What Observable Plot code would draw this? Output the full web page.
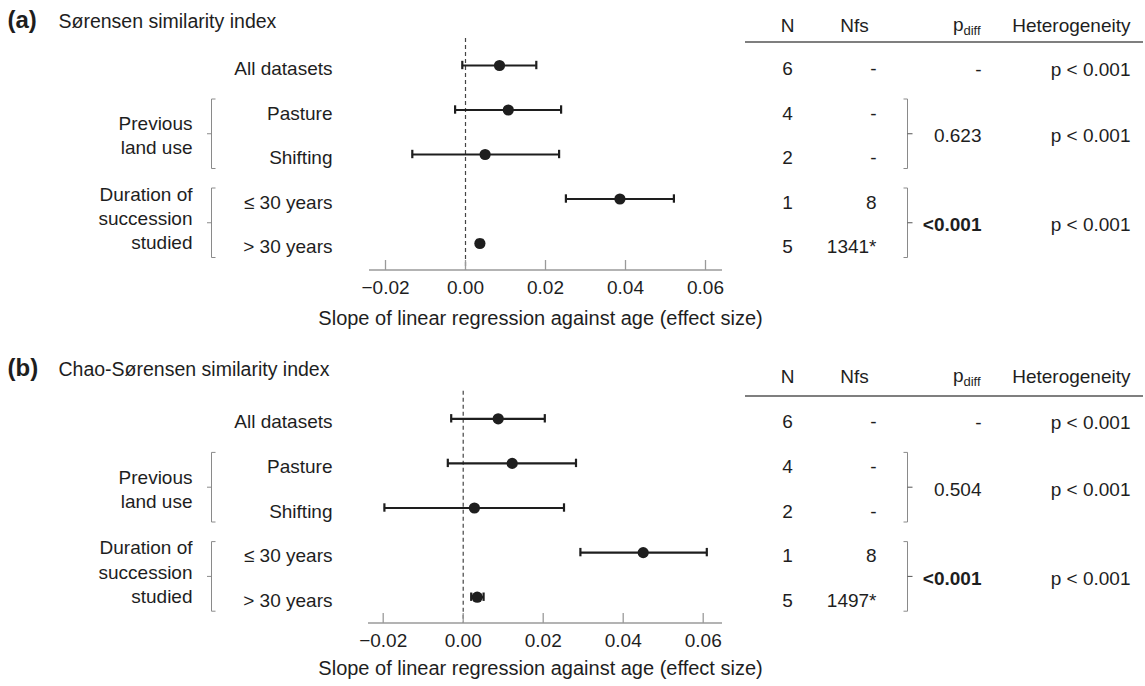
<!DOCTYPE html>
<html>
<head>
<meta charset="utf-8">
<script src="https://cdn.jsdelivr.net/npm/d3@7"></script>
<script src="https://cdn.jsdelivr.net/npm/@observablehq/plot@0.6"></script>
<style>
  body { margin: 0; background: #fff; }
  #chart { width: 1145px; height: 686px; overflow: hidden; }
  #chart svg { display: block; }
</style>
</head>
<body>
<div id="chart"></div>
<script>
// ---------- data ----------
const rowLabels = ["All datasets", "Pasture", "Shifting", "≤ 30 years", "> 30 years"];
const nValues = [6, 4, 2, 1, 5];
const groupLabels = ["", "Previous\nland use", "Duration of\nsuccession\nstudied"];
const groupFirstRow = [0, 1, 3];
const groupLastRow = [0, 2, 4];
const pdiffBold = [false, false, true];
const xTicks = [-0.02, 0, 0.02, 0.04, 0.06];
const axisLabel = "Slope of linear regression against age (effect size)";

const sorTitle = "Sørensen similarity index";
const sorEstimate = [0.0085, 0.0107, 0.0049, 0.0386, 0.0036];
const sorLower = [-0.0008, -0.0026, -0.0133, 0.0251, 0.0030];
const sorUpper = [0.0177, 0.0239, 0.0234, 0.0521, 0.0042];
const sorNfs = ["-", "-", "-", "8", "1341*"];
const sorPdiff = ["-", "0.623", "<0.001"];
const sorHeterogeneity = ["p < 0.001", "p < 0.001", "p < 0.001"];

const chaoTitle = "Chao-Sørensen similarity index";
const chaoEstimate = [0.00875, 0.01225, 0.0028, 0.0450, 0.0035];
const chaoLower = [-0.0030, -0.00385, -0.0197, 0.0293, 0.0020];
const chaoUpper = [0.0204, 0.0282, 0.0252, 0.0609, 0.0051];
const chaoNfs = ["-", "-", "-", "8", "1497*"];
const chaoPdiff = ["-", "0.504", "<0.001"];
const chaoHeterogeneity = ["p < 0.001", "p < 0.001", "p < 0.001"];

// ---------- layout ----------
const W = 1145;
const FONT = "'Liberation Sans', Arial, Helvetica, sans-serif";
const INK = "#1e1e1e";
const cols = {
  tagX: 7, titleX: 58, groupLabelX: 192, bracketLX: 211.5, rowLabelX: 332,
  nX: 787, nfsRight: 876, nfsHeader: 854, bracketRX: 907.5,
  pdiffRight: 981, hetRight: 1130, headLineX1: 745, headLineX2: 1143, axisLabelX: 540
};
const groupLineStep = 0.54;          // line spacing of group labels, in row units
const groupShift = [0, 0.04, -0.1];  // small vertical nudges of group labels, in row units
const layoutA = { tag: "(a)", height: 343, rowTop: 65, rowBottom: 243, dashTop: 38, axisY: 270,
  titleY: 20, headerY: 25, headerLineY: 42, axisLeft: 369, axisRight: 722,
  xDomain: [-0.024, 0.06425], axisLabelDy: 48 };
const layoutB = { tag: "(b)", height: 343, rowTop: 75.3, rowBottom: 253.7, dashTop: 47.7, axisY: 280,
  titleY: 25, headerY: 33, headerLineY: 53, axisLeft: 368, axisRight: 722,
  xDomain: [-0.023675, 0.064825], axisLabelDy: 45 };

function panel(L, title, est, lo, hi, nfs, pdiff, het) {
  const rows = rowLabels.map((label, i) => ({ i, label, n: nValues[i], est: est[i], lo: lo[i], hi: hi[i], nfs: nfs[i] }));
  const groups = groupLabels.map((label, g) => ({
    g, label, first: groupFirstRow[g], last: groupLastRow[g],
    mid: (groupFirstRow[g] + groupLastRow[g]) / 2, pdiff: pdiff[g], bold: pdiffBold[g], het: het[g]
  }));
  const groupLines = groups.flatMap(gr => {
    if (!gr.label) return [];
    const lines = gr.label.split("\n");
    return lines.map((text, k) => ({ text, y: gr.mid + groupShift[gr.g] + (k - (lines.length - 1) / 2) * groupLineStep }));
  });
  const ml = L.axisLeft, mt = L.dashTop;
  const at = (px) => px - ml;
  const fixed = (text, px, py, o = {}) => Plot.text([text], {
    text: d => d, frameAnchor: "top-left", dx: px - ml, dy: py - mt, lineAnchor: "middle", fill: INK, ...o
  });
  const capH = 4.2 / ((L.rowBottom - L.rowTop) / 4);

  const deco = (index, scales, values, dims) => {
    const y = scales.y;
    const g = d3.create("svg:g").attr("fill", "none");
    const line = (x1, y1, x2, y2, stroke, w = 1) =>
      g.append("line").attr("x1", x1).attr("y1", y1).attr("x2", x2).attr("y2", y2)
        .attr("stroke", stroke).attr("stroke-width", w);
    line(L.axisLeft, L.axisY, L.axisRight, L.axisY, "#9a9a9a", 1.3);
    line(cols.headLineX1, L.headerLineY, cols.headLineX2, L.headerLineY, "#555", 1.3);
    for (const gr of groups) {
      if (gr.first === gr.last) continue;
      const yt = y(gr.first) - 10.5, yb = y(gr.last) + 14.5, ym = (yt + yb) / 2;
      const xl = cols.bracketLX, xr = cols.bracketRX;
      line(xl, yt, xl, yb, "#8a8a8a");
      line(xl, yt, xl + 4, yt, "#8a8a8a");
      line(xl, yb, xl + 4, yb, "#8a8a8a");
      line(xl - 4.5, ym, xl, ym, "#8a8a8a");
      line(xr, yt, xr, yb, "#8a8a8a");
      line(xr - 4, yt, xr, yt, "#8a8a8a");
      line(xr - 4, yb, xr, yb, "#8a8a8a");
      line(xr, ym, xr + 5, ym, "#555");
    }
    return g.node();
  };

  return Plot.plot({
    width: W,
    height: L.height,
    marginLeft: L.axisLeft,
    marginRight: W - L.axisRight,
    marginTop: L.dashTop,
    marginBottom: L.height - L.axisY,
    style: { fontFamily: FONT, fontSize: "19px", color: INK, background: "white", overflow: "visible" },
    x: { domain: L.xDomain },
    y: { domain: [0, 4], range: [L.rowTop, L.rowBottom], axis: null },
    marks: [
      Plot.ruleX([0], { stroke: "#444", strokeWidth: 1.2, strokeDasharray: "4,3" }),
      Plot.ruleX(xTicks, { stroke: "#9a9a9a", strokeWidth: 1.3, insetTop: (L.axisY - L.dashTop) - 10 }),
      Plot.axisX({ ticks: xTicks, tickFormat: d3.format(".2f"), tickSize: 0, tickPadding: 10, fontSize: 19, fill: INK, label: null }),
      deco,
      Plot.ruleY(rows, { y: "i", x1: "lo", x2: "hi", stroke: INK, strokeWidth: 2.2 }),
      Plot.ruleX(rows, { x: "lo", y1: d => d.i - capH, y2: d => d.i + capH, stroke: INK, strokeWidth: 2.2 }),
      Plot.ruleX(rows, { x: "hi", y1: d => d.i - capH, y2: d => d.i + capH, stroke: INK, strokeWidth: 2.2 }),
      Plot.dot(rows, { x: "est", y: "i", r: 5.6, fill: INK, stroke: "none" }),
      Plot.text(rows, { y: "i", text: "label", frameAnchor: "left", dx: at(cols.rowLabelX), dy: 3.5, textAnchor: "end", fill: INK }),
      Plot.text(groupLines, { y: "y", text: "text", frameAnchor: "left", dx: at(cols.groupLabelX), dy: 2, textAnchor: "end", fill: INK }),
      Plot.text(rows, { y: "i", text: "n", frameAnchor: "left", dx: at(cols.nX), dy: 3.5, textAnchor: "middle", fill: INK }),
      Plot.text(rows, { y: "i", text: "nfs", frameAnchor: "left", dx: at(cols.nfsRight), dy: 3.5, textAnchor: "end", fill: INK }),
      Plot.text(groups.filter(d => !d.bold), { y: "mid", text: "pdiff", frameAnchor: "left", dx: at(cols.pdiffRight), dy: 4, textAnchor: "end", fill: INK }),
      Plot.text(groups.filter(d => d.bold), { y: "mid", text: "pdiff", frameAnchor: "left", dx: at(cols.pdiffRight), dy: 4, textAnchor: "end", fontWeight: "bold", fill: INK }),
      Plot.text(groups, { y: "mid", text: "het", frameAnchor: "left", dx: at(cols.hetRight), dy: 4, textAnchor: "end", fill: INK }),
      fixed("N", cols.nX, L.headerY, { textAnchor: "middle" }),
      fixed("Nfs", cols.nfsHeader, L.headerY, { textAnchor: "middle" }),
      fixed("p", cols.pdiffRight - 18, L.headerY - 1, { textAnchor: "end" }),
      fixed("diff", cols.pdiffRight - 18, L.headerY + 5, { textAnchor: "start", fontSize: 13 }),
      fixed("Heterogeneity", cols.hetRight, L.headerY, { textAnchor: "end" }),
      fixed(L.tag, cols.tagX, L.titleY, { textAnchor: "start", fontSize: 24, fontWeight: "bold" }),
      fixed(title, cols.titleX, L.titleY + 1.5, { textAnchor: "start", fontSize: 19.5 }),
      fixed(axisLabel, cols.axisLabelX, L.axisY + L.axisLabelDy, { textAnchor: "middle", fontSize: 20 })
    ]
  });
}

const chart = document.getElementById("chart");
chart.append(panel(layoutA, sorTitle, sorEstimate, sorLower, sorUpper, sorNfs, sorPdiff, sorHeterogeneity));
chart.append(panel(layoutB, chaoTitle, chaoEstimate, chaoLower, chaoUpper, chaoNfs, chaoPdiff, chaoHeterogeneity));
</script>
</body>
</html>
